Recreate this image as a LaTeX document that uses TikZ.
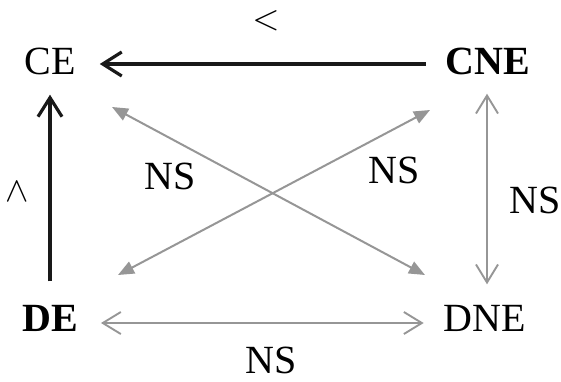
\documentclass[tikz,border=0pt]{standalone}
\usepackage{fontspec}
\setmainfont{Liberation Serif}
\usetikzlibrary{arrows.meta}
\definecolor{lg}{RGB}{150,150,150}
\begin{document}
\begin{tikzpicture}[x=1pt,y=-1pt,
  lab/.style={font=\fontsize{40}{46}\selectfont, inner sep=0pt, text height=27pt, text depth=0pt},
  sym/.style={inner sep=0pt, scale=3.5},
  blk/.style={draw=black!90, line width=3.2pt, -{Straight Barb[length=19pt,width=24pt,line width=3.2pt]}},
  grayopen/.style={draw=lg, line width=1.9pt, {Straight Barb[length=18pt,width=22pt,line width=1.9pt]}-{Straight Barb[length=18pt,width=22pt,line width=1.9pt]}},
  grayfill/.style={draw=lg, line width=2pt, {Triangle[length=16pt,width=13pt]}-{Triangle[length=16pt,width=13pt]}}]
\useasboundingbox (0,0) rectangle (561,381);
\node[lab] (CE) at (50,61) {CE};
\node[lab] (CNE) at (488,61) {\textbf{CNE}};
\node[lab] (DE) at (50,318) {\textbf{DE}};
\node[lab] (DNE) at (485,318) {DNE};
% diagonal endpoints
\coordinate (d1s) at (112,107);
\coordinate (d1e) at (425,275);
\coordinate (d2s) at (118,275);
\coordinate (d2e) at (430,110);
\draw[blk, shorten <=20pt, shorten >=24pt] ([yshift=-3pt]CNE.west) -- ([yshift=-3pt]CE.east);
\node[sym] (lt) at (266,21) {$<$};
\draw[blk, shorten <=23pt, shorten >=20pt] (DE.north) -- (CE.south);
\node[sym] (wedge) at (17,192) {$\wedge$};
\draw[grayopen, shorten <=19pt, shorten >=20pt] ([xshift=-1pt]CNE.south) -- ([xshift=2pt]DNE.north);
\node[lab] (ns1) at (535,200) {NS};
\draw[grayopen, shorten <=23pt, shorten >=20pt] ([yshift=-5pt]DE.east) -- ([yshift=-5pt]DNE.west);
\node[lab] (ns2) at (271,360) {NS};
\draw[grayfill] (d1s) -- (d1e);
\draw[grayfill] (d2s) -- (d2e);
\node[lab] (ns3) at (170,176) {NS};
\node[lab] (ns4) at (394,170) {NS};
\end{tikzpicture}
\end{document}
